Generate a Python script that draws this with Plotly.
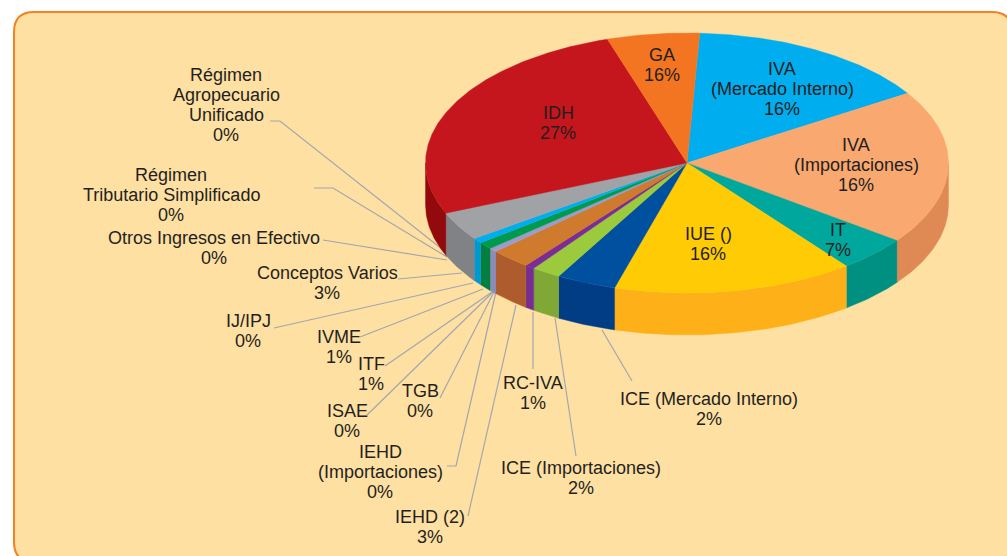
import math
import plotly.graph_objects as go

# ---- data (share of the pie, %; label = printed text)
names = ["IVA MI", "IVA Imp", "IT", "IUE", "ICE MI", "ICE Imp", "RC-IVA", "IEHD 2", "IEHD Imp",
         "ISAE", "TGB", "ITF", "IVME", "IJ/IPJ", "Conceptos", "Otros", "RTS", "RAU", "IDH", "GA"]
values = [15.2, 19.2, 4.4, 14.9, 3.7, 1.8, 0.6, 2.5, 0.02, 0.02, 0.02, 0.45, 0.9, 0.65, 3.5,
          0.02, 0.02, 0.02, 26.4, 5.7]
top_colors = ["#00ADEF", "#F9A870", "#00A79D", "#FFCB05", "#0050A0", "#9BCA3C", "#7B2C96", "#CF7A2C",
              "#9C9CC8", "#9C9CC8", "#9C9CC8", "#9C9CC8", "#009A4E", "#00ADEF", "#A1A2A5",
              "#A1A2A5", "#A1A2A5", "#A1A2A5", "#C4161C", "#F47521"]
side_colors = ["#0090C8", "#DF8A55", "#009082", "#FDB018", "#003D85", "#80A836", "#752E90", "#AE5C2E",
               "#8C8CB8", "#8C8CB8", "#8C8CB8", "#8C8CB8", "#007F3F", "#0098D0", "#808285",
               "#808285", "#808285", "#808285", "#930A0D", "#C85A15"]
start_angle = 2.8

inside_labels = [
    (["GA", "16%"], 662, 65),
    (["IVA", "(Mercado Interno)", "16%"], 782, 89),
    (["IVA", "(Importaciones)", "16%"], 856, 165),
    (["IT", "7%"], 838, 240),
    (["IUE ()", "16%"], 708, 244),
    (["IDH", "27%"], 558, 123),
]
outside_labels = [
    (["Régimen", "Agropecuario", "Unificado", "0%"], 226, 105),
    (["Régimen", "Tributario Simplificado", "0%"], 171, 195),
    (["Otros Ingresos en Efectivo", "0%"], 214, 248),
    (["Conceptos Varios", "3%"], 327, 283),
    (["IJ/IPJ", "0%"], 248, 331),
    (["IVME", "1%"], 339, 347),
    (["ITF", "1%"], 371, 374),
    (["TGB", "0%"], 420, 401),
    (["ISAE", "0%"], 347, 421),
    (["IEHD", "(Importaciones)", "0%"], 380, 472),
    (["IEHD (2)", "3%"], 430, 527),
    (["RC-IVA", "1%"], 533, 393),
    (["ICE (Importaciones)", "2%"], 581, 478),
    (["ICE (Mercado Interno)", "2%"], 709, 409),
]
leaders = [
    ([270, 280, 447], [121, 121, 253]),
    ([314, 333, 447], [188, 188, 257]),
    ([323, 447], [240, 260]),
    ([398, 462], [279, 273]),
    ([274, 473], [328, 283]),
    ([360, 483], [337, 289]),
    ([385, 492], [366, 292]),
    ([367, 493], [415, 292]),
    ([440, 494], [398, 292]),
    ([447, 456, 496], [466, 466, 292]),
    ([468, 516], [516, 305]),
    ([533, 533], [369, 312]),
    ([576, 555], [456, 318]),
    ([632, 602], [381, 330]),
]

# ---- geometry of the tilted pie
CX, CY, RX, RY, DEPTH = 687, 163, 261.5, 130, 42
FONT = "Liberation Sans"
LINE = 20
FS = 18


def pt(t, dy=0):
    r = math.radians(t)
    return CX + RX * math.sin(r), CY - RY * math.cos(r) + dy


fig = go.Figure()
total = sum(values)
edges = [start_angle]
for v in values:
    edges.append(edges[-1] + v / total * 360)

# leader lines
for xs, ys in leaders:
    fig.add_trace(go.Scatter(x=xs, y=ys, mode="lines", line=dict(color="#A3A6AD", width=1.2),
                             hoverinfo="skip", showlegend=False))

# visible outer wall (front half of the disc)
for i, name in enumerate(names):
    a = max(edges[i], 90)
    b = min(edges[i + 1], 270)
    if a >= b:
        continue
    n = max(2, int((b - a) * 2))
    ts = [a + (b - a) * k / n for k in range(n + 1)]
    up = [pt(t) for t in ts]
    lo = [pt(t, DEPTH) for t in reversed(ts)]
    poly = up + lo + up[:1]
    fig.add_trace(go.Scatter(x=[p[0] for p in poly], y=[p[1] for p in poly], mode="lines",
                             fill="toself", fillcolor=side_colors[i],
                             line=dict(color=side_colors[i], width=0.4),
                             name=name + " side", hoverinfo="skip", showlegend=False))

# top face
for i, name in enumerate(names):
    a, b = edges[i], edges[i + 1]
    n = max(2, int((b - a) * 2))
    rim = [pt(a + (b - a) * k / n) for k in range(n + 1)]
    poly = [(CX, CY)] + rim + [(CX, CY)]
    fig.add_trace(go.Scatter(x=[p[0] for p in poly], y=[p[1] for p in poly], mode="lines",
                             fill="toself", fillcolor=top_colors[i],
                             line=dict(color=top_colors[i], width=0.4),
                             name=name, text=f"{values[i]}%", hoverinfo="name+text", showlegend=False))

anns = []
for lines, x, yc in inside_labels + outside_labels:
    y0 = yc - (len(lines) - 1) * LINE / 2
    for k, s in enumerate(lines):
        anns.append(dict(x=x, y=y0 + k * LINE, text=s, showarrow=False, xanchor="center", yanchor="middle",
                         xref="x", yref="y", font=dict(family=FONT + ", Arial, sans-serif", size=FS, color="#231F20")))

panel = "M 14 32 Q 14 12 34 12 L 992 12 Q 1012 12 1012 32 L 1012 542 Q 1012 562 992 562 L 34 562 Q 14 562 14 542 Z"
fig.update_layout(
    width=1007, height=556, margin=dict(l=0, r=0, t=0, b=0),
    paper_bgcolor="white", plot_bgcolor="white", showlegend=False,
    xaxis=dict(range=[0, 1007], visible=False, fixedrange=True),
    yaxis=dict(range=[556, 0], visible=False, fixedrange=True),
    annotations=anns,
    shapes=[dict(type="path", path=panel, xref="x", yref="y", layer="below",
                 fillcolor="#FFE0A3", line=dict(color="#F58220", width=2))],
)
fig.write_html("out.html", post_script="document.body.style.margin='0';",
               config={"displayModeBar": False})
